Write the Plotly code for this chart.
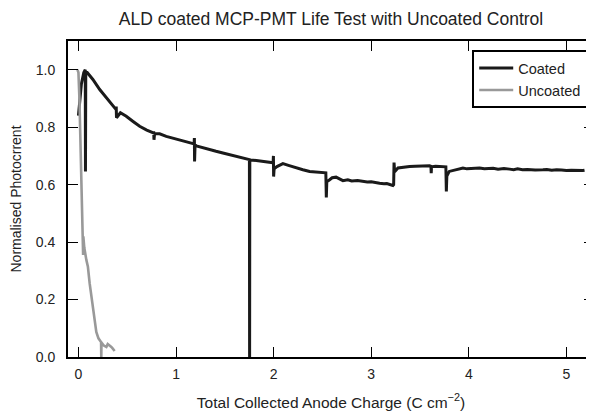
import plotly.graph_objects as go

# Coated MCP-PMT
coated_x = [0.0, 0.01, 0.03, 0.055, 0.07, 0.072, 0.075, 0.09, 0.148, 0.218, 0.286, 0.354, 0.384, 0.387,
            0.39, 0.43, 0.49, 0.56, 0.627, 0.70, 0.768, 0.771, 0.774, 0.78, 0.832, 0.90, 0.968, 1.04,
            1.105, 1.15, 1.185, 1.188, 1.19, 1.195, 1.208, 1.276, 1.344, 1.41, 1.48, 1.55, 1.618, 1.69,
            1.752, 1.754, 1.756, 1.823, 1.89, 1.959, 1.995, 1.998, 2.0, 2.005, 2.034, 2.095, 2.16,
            2.232, 2.30, 2.369, 2.45, 2.522, 2.535, 2.54, 2.545, 2.574, 2.60, 2.64, 2.71, 2.76, 2.80,
            2.86, 2.915, 2.96, 3.0, 3.05, 3.086, 3.13, 3.16, 3.222, 3.23, 3.234, 3.24, 3.274, 3.33,
            3.393, 3.45, 3.50, 3.55, 3.598, 3.612, 3.615, 3.618, 3.66, 3.735, 3.765, 3.77, 3.775, 3.80,
            3.87, 3.94, 3.98, 4.02, 4.06, 4.11, 4.16, 4.2, 4.25, 4.3, 4.36, 4.418, 4.46, 4.5, 4.55,
            4.6, 4.68, 4.76, 4.8, 4.85, 4.9, 4.95, 5.0, 5.05, 5.1, 5.169, 5.186]
coated_y = [0.84, 0.88, 0.95, 0.99, 1.0, 0.646, 0.99, 0.99, 0.966, 0.931, 0.902, 0.873, 0.862, 0.872,
            0.833, 0.85, 0.838, 0.82, 0.803, 0.79, 0.78, 0.786, 0.756, 0.777, 0.777, 0.768, 0.762, 0.755,
            0.748, 0.745, 0.742, 0.762, 0.681, 0.738, 0.735, 0.728, 0.721, 0.716, 0.71, 0.704, 0.698, 0.692,
            0.687, 0.0, 0.686, 0.684, 0.68, 0.677, 0.676, 0.70, 0.628, 0.655, 0.663, 0.673, 0.666,
            0.658, 0.652, 0.646, 0.644, 0.642, 0.641, 0.555, 0.61, 0.617, 0.624, 0.626, 0.614, 0.617, 0.613,
            0.614, 0.611, 0.609, 0.610, 0.606, 0.605, 0.603, 0.604, 0.597, 0.60, 0.677, 0.645, 0.658, 0.661,
            0.663, 0.664, 0.665, 0.666, 0.666, 0.664, 0.64, 0.662, 0.664, 0.663, 0.662, 0.576, 0.63, 0.646,
            0.652, 0.658, 0.655, 0.656, 0.659, 0.658, 0.655, 0.656, 0.657, 0.654, 0.656, 0.654, 0.652,
            0.655, 0.652, 0.653, 0.651, 0.652, 0.653, 0.65, 0.652, 0.651, 0.649, 0.65, 0.649, 0.649, 0.65]

# Uncoated control
uncoated_x = [-0.01, 0.0, 0.01, 0.02, 0.03, 0.04, 0.045, 0.048, 0.05, 0.06, 0.081, 0.097, 0.115, 0.132,
              0.149, 0.166, 0.183, 0.205, 0.232, 0.234, 0.236, 0.26, 0.286, 0.30, 0.32, 0.337, 0.35, 0.371]
uncoated_y = [1.0, 0.99, 0.9, 0.75, 0.6, 0.45, 0.40, 0.355, 0.42, 0.38, 0.338, 0.314, 0.256, 0.21,
              0.163, 0.12, 0.087, 0.065, 0.052, 0.0, 0.05, 0.04, 0.035, 0.045, 0.041, 0.035, 0.03, 0.021]

x_ticks = [0, 1, 2, 3, 4, 5]
y_ticks = [0.0, 0.2, 0.4, 0.6, 0.8, 1.0]

FONT = "Liberation Sans, Arial, sans-serif"
TXT = "#222"

fig = go.Figure()
fig.add_trace(go.Scatter(x=coated_x, y=coated_y, mode="lines", name="Coated",
                         line=dict(color="#1a1a1a", width=3)))
fig.add_trace(go.Scatter(x=uncoated_x, y=uncoated_y, mode="lines", name="Uncoated",
                         line=dict(color="#999999", width=2.6)))

axis_common = dict(showline=True, linecolor="black", linewidth=2, mirror="ticks",
                   ticks="inside", ticklen=10, tickwidth=1, tickcolor="black",
                   showgrid=False, zeroline=False, automargin=False,
                   tickfont=dict(family=FONT, size=14, color=TXT))

fig.update_xaxes(range=[-0.107, 5.283], tickvals=x_ticks, ticktext=[str(v) for v in x_ticks],
                 title=dict(text="Total Collected Anode Charge (C cm<sup>\u22122</sup>)",
                            font=dict(family=FONT, size=15.5, color=TXT), standoff=16),
                 ticklabelstandoff=3, **axis_common)
fig.update_yaxes(range=[0, 1.1], tickvals=y_ticks, ticktext=[f"{v:.1f}" for v in y_ticks],
                 title=dict(text="Normalised Photocrrent",
                            font=dict(family=FONT, size=14, color=TXT), standoff=12),
                 ticklabelstandoff=8, **axis_common)

# The page body adds an 8px offset, so the figure is sized to end at the window edge.
fig.update_layout(
    width=586, height=406,
    margin=dict(l=60, r=0, t=33, b=57, autoexpand=False),
    paper_bgcolor="white", plot_bgcolor="white",
    title=dict(text="ALD coated MCP-PMT Life Test with Uncoated Control",
               font=dict(family=FONT, size=17.5, color=TXT),
               x=0.5, xanchor="center", xref="paper", y=0.972, yanchor="middle"),
    legend=dict(x=0.989, y=0.971, xanchor="right", yanchor="top",
                bordercolor="black", borderwidth=2, bgcolor="white",
                font=dict(family=FONT, size=14.5, color=TXT),
                tracegroupgap=2, itemwidth=34),
    showlegend=True,
)

fig.write_html("out.html")
